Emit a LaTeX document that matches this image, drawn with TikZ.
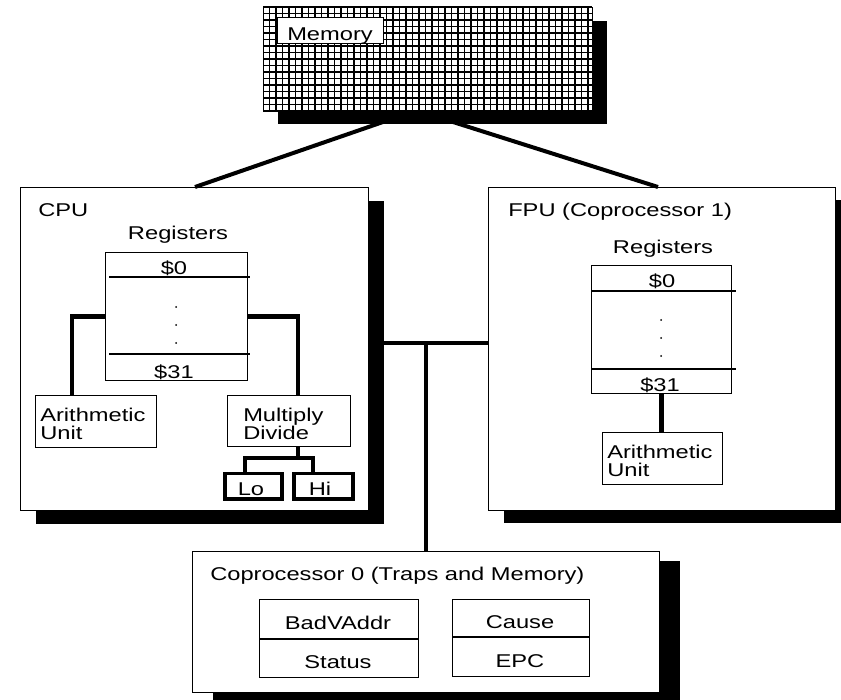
\documentclass[tikz,border=0pt]{standalone}
\usepackage{fontspec}
\setmainfont{Liberation Sans}
\usetikzlibrary{calc, shadows}

\begin{document}
\begin{tikzpicture}[x=1pt, y=-1pt,
	panel/.style 2 args={draw, fill=white, line width=1.2pt, inner sep=0pt, anchor=north west,
		drop shadow={shadow xshift=#1pt, shadow yshift=-#2pt, fill=black, opacity=1}},
	cell/.style={draw, fill=white, line width=1.2pt, inner sep=0pt, anchor=north west},
	latch/.style={draw, line width=3.5pt, inner sep=0pt, anchor=north west},
	lbl/.style={font=\fontsize{18.5}{17}\selectfont, inner sep=0pt, xscale=1.28, anchor=base west},
	wire/.style={line width=4.5pt}]
	
	\useasboundingbox (0,0) rectangle (841,700);
	
	% --- 1. Memory (hatched block on top) ---
	\node[panel={14}{13}, minimum width=329pt, minimum height=103pt] (mem) at (263,7) {};
	\begin{scope}
		\clip (mem.north west) rectangle (mem.south east);
		\foreach \x in {263,269.5,...,593} {
			\draw[line width=1.2pt] (\x,7) -- (\x,110);
		}
		\foreach \y in {7,13.5,...,111} {
			\draw[line width=1.2pt] (263,\y) -- (592,\y);
		}
	\end{scope}
	\node[cell, minimum width=106pt, minimum height=26pt] (memtag) at (277,17) {};
	\node[lbl] (memtxt) at (287,41) {Memory};
	
	% --- 2. CPU ---
	\node[panel={15}{13}, minimum width=348pt, minimum height=323pt] (cpu) at (20,187) {};
	\node[lbl] (cputxt) at (38,216.5) {CPU};
	\node[lbl, anchor=base] (cregtxt) at (178,240) {Registers};
	\node[cell, minimum width=142pt, minimum height=128pt] (creg) at (105,252) {};
	\draw[line width=1.2pt] (109,277) -- (250,277) (109,354) -- (250,354);
	\node[lbl, anchor=base] (czero) at (174,275) {\$0};
	\node[lbl, anchor=base] (clast) at (174,379) {\$31};
	\foreach \y in {307,325,343} {
		\fill (176,\y) circle (1pt);
	}
	
	% ALU and multiply/divide unit
	\node[cell, minimum width=121pt, minimum height=52pt] (calu) at (35,395) {};
	\node[lbl] (calua) at (40,421.5) {Arithmetic};
	\node[lbl] (calub) at (40,440) {Unit};
	\node[cell, minimum width=123pt, minimum height=51pt] (cmul) at (227,395) {};
	\node[lbl] (cmula) at (243,421.5) {Multiply};
	\node[lbl] (cmulb) at (243,440) {Divide};
	
	% Lo / Hi registers (text sits under the thick frame)
	\node[lbl, anchor=base] (lotxt) at (251,496) {Lo};
	\node[lbl, anchor=base] (hitxt) at (320,496) {Hi};
	\node[latch, minimum width=57pt, minimum height=25pt] (lo) at (223,472) {};
	\node[latch, minimum width=59pt, minimum height=25pt] (hi) at (292,472) {};
	
	\draw[wire] (creg.west) -| ($(calu.north west)+(37,0)$);
	\draw[wire] (creg.east) -| ($(cmul.north west)+(71,0)$);
	\coordinate (split) at (298,458);
	\draw[wire] ($(cmul.south west)+(71,0)$) -- (split);
	\draw[wire] ($(lo.north west)+(22,0)$) |- (split) -| ($(hi.north west)+(21,0)$);
	
	% --- 3. FPU ---
	\node[panel={15}{12}, minimum width=347pt, minimum height=323pt] (fpu) at (488,187) {};
	\node[lbl] (fputxt) at (508,216.5) {FPU (Coprocessor 1)};
	\node[lbl, anchor=base] (fregtxt) at (663,254) {Registers};
	\node[cell, minimum width=140pt, minimum height=128pt] (freg) at (591,265) {};
	\draw[line width=1.2pt] (591,291) -- (736,291) (591,369) -- (736,369);
	\node[lbl, anchor=base] (fzero) at (662,288) {\$0};
	\node[lbl, anchor=base] (flast) at (660,392) {\$31};
	\foreach \y in {320,338,356} {
		\fill (661,\y) circle (1pt);
	}
	\node[cell, minimum width=120pt, minimum height=52pt] (falu) at (602,432) {};
	\node[lbl] (falua) at (607,458) {Arithmetic};
	\node[lbl] (falub) at (607,477) {Unit};
	\draw[wire] (freg.south) -- (freg.south |- falu.north);
	
	% --- 4. Coprocessor 0 ---
	\node[panel={20}{9}, minimum width=467pt, minimum height=141pt] (cop) at (192,551) {};
	\node[lbl] (coptxt) at (210,580) {Coprocessor 0 (Traps and Memory)};
	\node[cell, minimum width=159pt, minimum height=78pt] (bva) at (259,599) {};
	\draw[line width=1.2pt] (bva.west |- 0,639) -- (bva.east |- 0,639);
	\node[lbl, anchor=base] (bvatxt) at (338,629) {BadVAddr};
	\node[lbl, anchor=base] (sttxt) at (338,668) {Status};
	\node[cell, minimum width=137pt, minimum height=77pt] (cause) at (452,599) {};
	\draw[line width=1.2pt] (cause.west |- 0,637) -- (cause.east |- 0,637);
	\node[lbl, anchor=base] (cautxt) at (520,628) {Cause};
	\node[lbl, anchor=base] (epctxt) at (520,667) {EPC};
	
	% --- 5. Bus and memory links ---
	\coordinate (bus) at (426,343);
	\draw[wire] (bus -| cpu.east) -- (bus -| fpu.west);
	\draw[wire] (bus) -- (bus |- cop.north);
	
	\coordinate (memL) at (383,122);
	\coordinate (memR) at (453,122);
	\draw[line width=4pt] (memL) -- ($(cpu.north west)+(175,0)$);
	\draw[line width=4pt] (memR) -- ($(fpu.north west)+(170,0)$);
	
\end{tikzpicture}
\end{document}
